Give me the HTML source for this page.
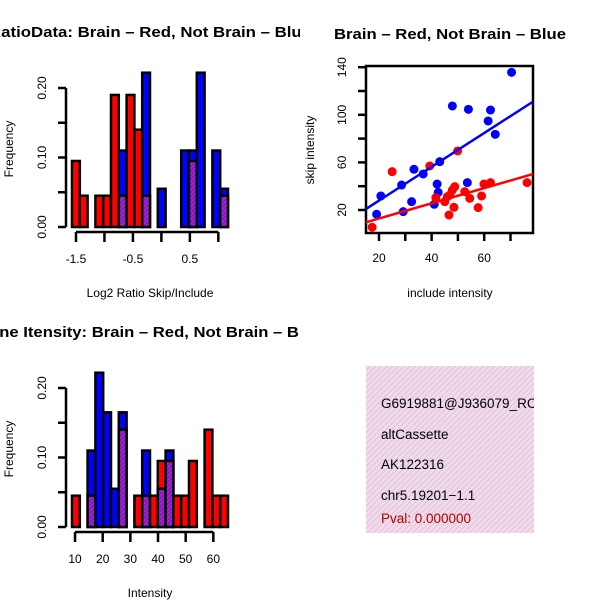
<!DOCTYPE html>
<html><head><meta charset="utf-8"><style>
html,body{margin:0;padding:0;background:#fff;}
svg{display:block;font-family:"Liberation Sans",Helvetica,Arial,sans-serif;}
</style></head><body>
<svg id="c" width="600" height="600" viewBox="0 0 600 600">
<defs>
<pattern id="hatch" width="4" height="4" patternUnits="userSpaceOnUse" patternTransform="rotate(45)">
<rect width="4" height="4" fill="#f6d8f0"/><rect width="1.3" height="4" fill="#d9cfd0"/>
</pattern>
<pattern id="phatch" width="3" height="3" patternUnits="userSpaceOnUse" patternTransform="rotate(45)">
<rect width="3" height="3" fill="#a020f0"/><rect width="1.2" height="3" fill="#7a1a8a"/>
</pattern>
<clipPath id="cl1"><rect x="0" y="0" width="300" height="300"/></clipPath>
<clipPath id="cl3"><rect x="0" y="300" width="300" height="300"/></clipPath>
</defs>
<g id="p1" clip-path="url(#cl1)"></g>
<g id="p2"></g>
<g id="p3" clip-path="url(#cl3)"></g>
<g>
<rect x="366" y="366" width="168" height="167" fill="url(#hatch)"/>
<g font-size="13.5" fill="#000">
<text x="381" y="408">G6919881@J936079_RC</text>
<text x="381" y="439">altCassette</text>
<text x="381" y="469">AK122316</text>
<text x="381" y="500">chr5.19201−1.1</text>
<text x="381" y="523" fill="#b00000">Pval: 0.000000</text>
</g>
</g>
<rect x="534" y="360" width="66" height="180" fill="#fff"/>
</svg>
<script>
// Ratio histogram data (20 bins)
const ratioRed  = [0.095,0.045,0,0.045,0.045,0.19,0.045,0.19,0.14,0.045,0,0,0,0,0,0.095,0,0,0,0.045];
const ratioBlue = [0,0,0,0,0,0,0.11,0,0,0.222,0,0.055,0,0,0.11,0.11,0.222,0,0.11,0.055];
const ratioXTicks = [-1.5,-1.0,-0.5,0,0.5,1.0];
const ratioXLabels = ["-1.5","","-0.5","","0.5",""];
const ratioBinStart = -1.57, ratioBinWidth = 0.137;
// Intensity histogram data (20 bins)
const intRed  = [0.045,0,0.045,0,0,0,0.14,0,0.045,0.045,0.045,0.095,0.095,0.045,0.045,0.095,0,0.14,0.045,0.045];
const intBlue = [0,0,0.11,0.222,0.165,0.055,0.165,0,0,0.11,0,0.055,0.11,0,0,0,0,0,0,0];
const intXTicks = [10,20,30,40,50,60];
const intXLabels = ["10","20","30","40","50","60"];
const intBinStart = 8.9, intBinWidth = 2.82;
const freqTicks = [0,0.05,0.10,0.15,0.20];
const freqLabels = ["0.00","","0.10","","0.20"];
// Scatter data
const blueX = [19.1,20.7,28.6,29.2,32.4,33.3,36.8,43.1,42.1,42.5,41,47.9,54,53.6,61.5,62.4,64.2,70.4];
const blueY = [16.4,31.8,41,18.6,27,54.2,50.3,60.6,41.8,34.8,24.8,107.4,104.6,43,94.8,104,83.6,135.7];
const redX = [17.4,25,39.3,49.9,41.6,45,46.6,46.9,47.9,48.8,48.5,52.6,54.5,57.7,59,59.9,62.4,76.3,46];
const redY = [5.5,52.2,57,69.6,30.3,27,15.8,32.6,36.8,39.6,22.3,35.4,29.8,22,31.8,41.8,43,43,31.2];
const blueFit = [-0.5,1.42];
const redFit = [0.1,0.638];
const scXTicks = [20,30,40,50,60,70];
const scXLabels = ["20","","40","","60",""];
const scYTicks = [20,40,60,80,100,120,140];
const scYLabels = ["20","","60","","100","","140"];

const NS="http://www.w3.org/2000/svg";
function mk(p,tag,at){const e=document.createElementNS(NS,tag);for(const k in at)e.setAttribute(k,at[k]);p.appendChild(e);return e;}
function txt(p,x,y,s,at){const e=mk(p,'text',Object.assign({x:x,y:y,'text-anchor':'middle'},at||{}));e.textContent=s;return e;}

function hist(g,y0,red,blue,bs,bw,xs,xts,xls,title,xlab,tlen){
  const X=v=>72+(v-bs)/bw*7.8, Y=v=>y0-v*695;
  for(let i=0;i<red.length;i++){
    const r=red[i],b=blue[i];const x0=72+i*7.8;
    if(r===0&&b===0)continue;
    const hi=Math.max(r,b),lo=Math.min(r,b);
    const bar=mk(g,'rect',{x:x0,y:Y(hi),width:7.8,height:hi*695,fill:r>=b?'#ff0000':'#0000ff',stroke:'#000','stroke-width':2.5});
    
    
    if(lo>0){
      const pb=mk(g,'rect',{x:x0,y:Y(lo),width:7.8,height:lo*695,fill:'url(#phatch)',stroke:'#000','stroke-width':2.5});
      
      
    }
  }
  mk(g,'line',{x1:X(xs[0]),x2:X(xs[xs.length-1]),y1:y0+5,y2:y0+5,stroke:'#000','stroke-width':2.5});
  xs.forEach((v,i)=>{mk(g,'line',{x1:X(v),x2:X(v),y1:y0+5,y2:y0+15,stroke:'#000','stroke-width':2.5});
    if(xls[i]){const t=txt(g,X(v),y0+36,xls[i],{'font-size':12});}});
  mk(g,'line',{x1:66,x2:66,y1:Y(0),y2:Y(0.2),stroke:'#000','stroke-width':2.5});
  freqTicks.forEach((v,i)=>{mk(g,'line',{x1:58,x2:66,y1:Y(v),y2:Y(v),stroke:'#000','stroke-width':2.5});
    if(freqLabels[i]){const t=txt(g,0,0,freqLabels[i],{'font-size':12,transform:`translate(46,${Y(v)}) rotate(-90)`});}});
  const yl=txt(g,0,0,'Frequency',{'font-size':12,transform:`translate(13,${y0-78}) rotate(-90)`});
  
  const xl=txt(g,150,y0+70,xlab,{'font-size':12});
  
  const tt=txt(g,150,y0-190,title,{'font-size':15,'font-weight':'bold',textLength:tlen,lengthAdjust:'spacingAndGlyphs'});
  
}
hist(document.getElementById('p1'),227,ratioRed,ratioBlue,ratioBinStart,ratioBinWidth,ratioXTicks,ratioXTicks,ratioXLabels,'RatioData: Brain – Red, Not Brain – Blue','Log2 Ratio Skip/Include',322);
hist(document.getElementById('p3'),527,intRed,intBlue,intBinStart,intBinWidth,intXTicks,intXTicks,intXLabels,'Gene Itensity: Brain – Red, Not Brain – Blue','Intensity',346);

// scatter
(function(){
  const g=document.getElementById('p2');
  const X=v=>379+(v-20)*2.63, Y=v=>210-(v-20)*1.19;
  mk(g,'rect',{x:366,y:66,width:167,height:167,fill:'none',stroke:'#000','stroke-width':2.5});
  scXTicks.forEach((v,i)=>{mk(g,'line',{x1:X(v),x2:X(v),y1:233,y2:241,stroke:'#000','stroke-width':2.5});
    if(scXLabels[i]){const t=txt(g,X(v),262,scXLabels[i],{'font-size':12});}});
  scYTicks.forEach((v,i)=>{mk(g,'line',{x1:358,x2:366,y1:Y(v),y2:Y(v),stroke:'#000','stroke-width':2.5});
    if(scYLabels[i]){const t=txt(g,0,0,scYLabels[i],{'font-size':12,transform:`translate(346,${Y(v)}) rotate(-90)`});}});
  const cg=mk(g,'g',{});
  [[blueX,blueY,'#0000ff','blue'],[redX,redY,'#ff0000','red']].forEach(([xs,ys,c,n])=>{
    xs.forEach((x,i)=>{const p=mk(cg,'circle',{cx:X(x),cy:Y(ys[i]),r:4.5,fill:c});
      
      });
  });
  [[blueFit,'#0000ff','blue'],[redFit,'#ff0000','red']].forEach(([f,c,n])=>{
    const x1=15,x2=78.5;
    const l=mk(g,'line',{x1:X(x1),x2:X(x2),y1:Y(f[0]+f[1]*x1),y2:Y(f[0]+f[1]*x2),stroke:c,'stroke-width':2.5});
    
    
  });
  const t=txt(g,450,39,'Brain – Red, Not Brain – Blue',{'font-size':15,'font-weight':'bold',textLength:232,lengthAdjust:'spacingAndGlyphs'});
  
  const xl=txt(g,450,297,'include intensity',{'font-size':12});
  
  const yl=txt(g,0,0,'skip intensity',{'font-size':12,transform:'translate(314,150) rotate(-90)'});
  
})();
</script>
</body></html>
